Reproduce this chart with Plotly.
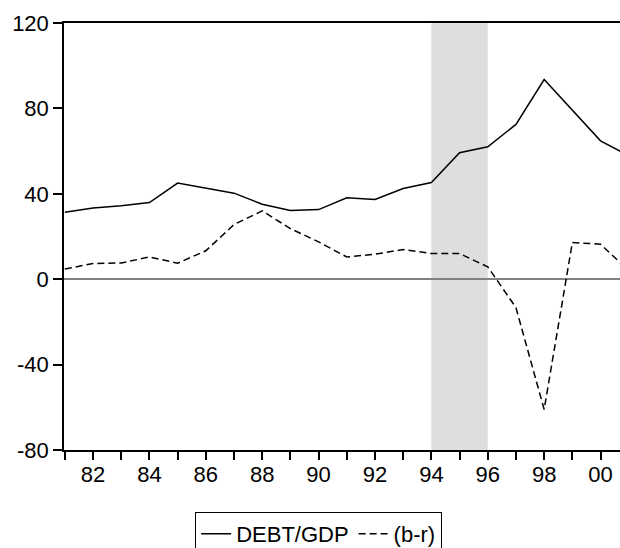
import plotly.graph_objects as go

# Annual observations, 1981-2001
years = list(range(1981, 2002))
debt_gdp = [31.4, 33.4, 34.4, 35.9, 45.0, 42.8, 40.3, 35.1, 32.2, 32.6, 38.1,
            37.3, 42.5, 45.3, 59.2, 62.0, 72.5, 93.5, 79.0, 64.8, 57.8]
b_minus_r = [4.8, 7.3, 7.6, 10.4, 7.5, 13.3, 25.6, 32.0, 23.7, 17.5, 10.4,
             11.7, 13.9, 12.0, 12.0, 5.8, -13.3, -61.0, 17.2, 16.4, 4.0]

# Shaded period
shade_start, shade_end = 1994, 1996

# Axis ticks
x_tick_vals = years
x_tick_text = [f"{y % 100:02d}" if y % 2 == 0 else "" for y in years]
y_tick_vals = [-80, -40, 0, 40, 80, 120]
y_tick_text = [str(v) for v in y_tick_vals]

FONT = "Arial, Liberation Sans, sans-serif"

fig = go.Figure()
fig.add_trace(go.Scatter(x=years, y=debt_gdp, mode="lines", name="DEBT/GDP",
                         line=dict(color="black", width=1.5)))
fig.add_trace(go.Scatter(x=years, y=b_minus_r, mode="lines", name="(b-r)",
                         line=dict(color="black", width=1.5, dash="7px,4px")))

fig.add_shape(type="rect", xref="x", yref="paper", x0=shade_start, x1=shade_end,
              y0=0, y1=1, fillcolor="#dedede", line=dict(width=0), layer="below")

fig.update_layout(
    width=620, height=548,
    margin=dict(l=64, r=0, t=23, b=98, autoexpand=False),
    paper_bgcolor="white", plot_bgcolor="white",
    font=dict(family=FONT, size=22, color="black"),
    showlegend=True,
    legend=dict(orientation="h", x=0.458, xanchor="center", y=-0.145, yanchor="top",
                bordercolor="black", borderwidth=1, bgcolor="white",
                font=dict(family=FONT, size=22, color="black"),
                itemwidth=30, tracegroupgap=0),
)
fig.update_xaxes(range=[1980.97, 2000.69], tickvals=x_tick_vals, ticktext=x_tick_text,
                 ticks="outside", ticklen=8, tickwidth=1.5, tickcolor="black",
                 showline=True, linecolor="black", linewidth=1.5, mirror=True,
                 showgrid=False, zeroline=False, tickfont=dict(size=22), automargin=False,
                 ticklabelstandoff=-4)
fig.update_yaxes(range=[-80, 120], tickvals=y_tick_vals, ticktext=y_tick_text,
                 ticks="outside", ticklen=9, tickwidth=1.5, tickcolor="black",
                 showline=True, linecolor="black", linewidth=1.5, mirror=False,
                 showgrid=False, zeroline=True, zerolinecolor="#808080", zerolinewidth=1.5,
                 tickfont=dict(size=22), automargin=False)

fig.write_html("out.html")
